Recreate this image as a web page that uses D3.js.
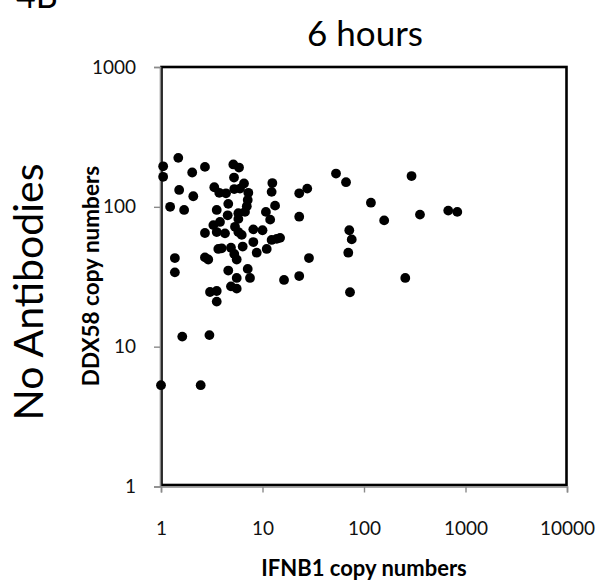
<!DOCTYPE html>
<html><head><meta charset="utf-8">
<script src="https://cdn.jsdelivr.net/npm/d3@7"></script>
<style>body{margin:0;background:#fff}svg{display:block}text{font-family:Lato,"Open Sans",sans-serif}</style>
</head><body>
<script>
const ifnb1 = [1.0,1.05,1.05,1.48,1.51,1.23,1.69,2.03,2.08,2.71,1.37,1.37,1.62,2.46,3.0,2.71,2.92,2.71,3.28,3.54,4.27,3.81,3.35,3.75,4.37,5.27,6.0,5.16,5.87,5.24,6.57,7.25,7.15,7.0,4.6,3.54,4.54,5.78,6.72,5.78,12.5,12.3,13.3,10.8,11.9,5.36,5.78,6.24,8.12,10,3.67,3.96,4.89,5.27,5.57,6.38,8.12,8.77,11,12.3,13.8,4.6,5.57,7.15,7.53,4.89,5.57,3.04,3.54,3.54,16.3,23,23,23,27.6,14.9,28.7,53,66.5,71.6,75.7,70,72.8,117,158,255,294,356,676,830];
const ddx58 = [5.3,195,164,224,132,100,95,176,119,193,43,34,11.8,5.3,12.1,43.5,42,65,74,66,64.6,78,138,126,125,134,135,201,191,162,147,126,112,101,105,95,87,90,92,82,148,128,102,92,81,72,66,63,69,68,50,50.5,51,46,42,52,56,47,50,58,59,35,31,36,31,27,26,24.6,25,21,30,32,125,85,135,60,43,173,150,68,58.5,47,24.5,107,80,31,166,88,94,92];
const xTicks = [1,10,100,1000,10000];
const yTicks = [1,10,100,1000];
const title = "6 hours", panel = "4B", rowLabel = "No Antibodies";
const xTitle = "IFNB1 copy numbers", yTitle = "DDX58 copy numbers";

const W=601,H=585, L=161, R=567, T=67, B=486.5;
const svg=d3.select("body").append("svg").attr("width",W).attr("height",H);
const x=d3.scaleLog().domain([1,10000]).range([L,R]);
const y=d3.scaleLog().domain([1,1000]).range([B,T]);

svg.append("text").attr("x",16).attr("y",8).attr("font-size",34).text(panel);
svg.append("text").attr("x",365).attr("y",46).attr("text-anchor","middle").attr("font-size",35).text(title);
svg.append("text").attr("transform","translate(43,292) rotate(-90)").attr("text-anchor","middle").attr("font-size",41).text(rowLabel);
svg.append("text").attr("transform","translate(99,276) rotate(-90)").attr("text-anchor","middle").attr("font-size",22.5).attr("font-weight","bold").text(yTitle);
svg.append("text").attr("x",364).attr("y",576).attr("text-anchor","middle").attr("font-size",22).attr("font-weight","bold").text(xTitle);

// frame
svg.append("rect").attr("x",L+0.5).attr("y",T).attr("width",R-L-1).attr("height",B-T-1.5).attr("fill","none").attr("stroke","#000").attr("stroke-width",2.6);

const xa=svg.append("g").attr("transform",`translate(0,${B})`).call(d3.axisBottom(x).tickValues(xTicks).tickFormat(d3.format("d")).tickSize(6).tickPadding(29));
const ya=svg.append("g").attr("transform",`translate(${L-1},0)`).call(d3.axisLeft(y).tickValues(yTicks).tickFormat(d3.format("d")).tickSize(6).tickPadding(18));
[xa,ya].forEach(g=>{g.select(".domain").attr("stroke","#8a8a8a").attr("stroke-width",1.6);
 g.selectAll(".tick line").attr("stroke","#8a8a8a").attr("stroke-width",1.4);
 g.selectAll("text").attr("font-size",19).attr("fill","#111").attr("font-family","Lato,sans-serif");});

svg.append("g").selectAll("circle").data(ifnb1.map((v,i)=>[v,ddx58[i]])).join("circle")
 .attr("cx",d=>x(d[0])).attr("cy",d=>y(d[1])).attr("r",4.9).attr("fill","#000");
</script>
</body></html>
